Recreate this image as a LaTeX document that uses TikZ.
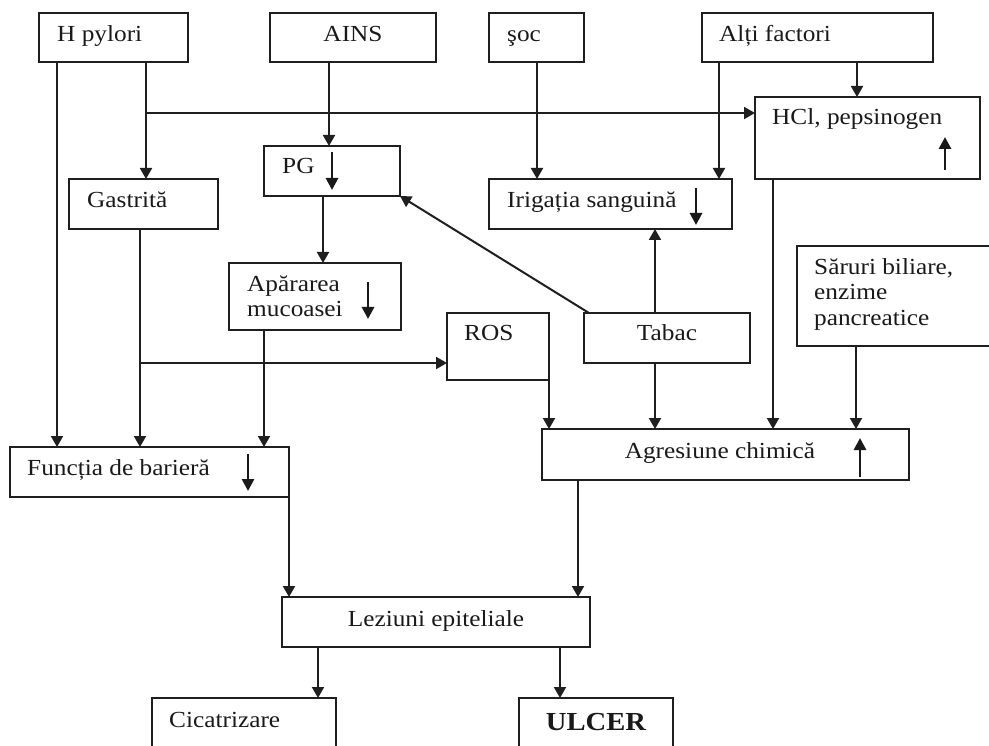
\documentclass[tikz,border=0pt]{standalone}
\usepackage{fontspec}
\setmainfont[FakeStretch=1.1]{Liberation Serif}
\usetikzlibrary{arrows.meta}

\begin{document}
\begin{tikzpicture}[x=1pt,y=-1pt,
  box/.style={draw=black!88, line width=1.8pt, rectangle, inner sep=0pt, outer sep=0pt, anchor=north west},
  txt/.style={inner sep=0pt, anchor=base west, text=black!90, font=\fontsize{23}{25}\selectfont},
  ctxt/.style={txt, anchor=base},
  conn/.style={draw=black!88, line width=2pt, -{Triangle[length=11pt,width=12pt]}},
  trend/.style={draw=black!90, line width=2.8pt, -{Triangle[length=12pt,width=12pt]}},
]
\useasboundingbox (0,0) rectangle (989,746);
\clip (0,0) rectangle (989,746);

% ---- boxes ----
\node[box, minimum width=149pt, minimum height=49pt] (hp)    at (39,13)  {};
\node[box, minimum width=166pt, minimum height=49pt] (ains)  at (270,13) {};
\node[box, minimum width=95pt,  minimum height=49pt] (soc)   at (489,13) {};
\node[box, minimum width=231pt, minimum height=49pt] (alti)  at (702,13) {};
\node[box, minimum width=225pt, minimum height=82pt] (hcl)   at (755,97) {};
\node[box, minimum width=149pt, minimum height=50pt] (gas)   at (69,179) {};
\node[box, minimum width=136pt, minimum height=50pt] (pg)    at (264,146) {};
\node[box, minimum width=243pt, minimum height=50pt] (irig)  at (489,179) {};
\node[box, minimum width=172pt, minimum height=67pt] (apa)   at (229,263) {};
\node[box, minimum width=102pt, minimum height=67pt] (ros)   at (447,313) {};
\node[box, minimum width=166pt, minimum height=50pt] (tabac) at (584,313) {};
\node[box, minimum width=200pt, minimum height=100pt] (sar)  at (797,246) {};
\node[box, minimum width=367pt, minimum height=51pt] (agr)   at (542,429) {};
\node[box, minimum width=279pt, minimum height=50pt] (func)  at (10,447) {};
\node[box, minimum width=308pt, minimum height=50pt] (lez)   at (282,597) {};
\node[box, minimum width=184pt, minimum height=70pt] (cic)   at (152,698) {};
\node[box, minimum width=154pt, minimum height=70pt] (ulcer) at (519,698) {};

% ---- texts ----
\node[txt]  (hp-t)    at (57,42)   {H pylori};
\node[ctxt] (ains-t)  at (353,42)  {AINS};
\node[txt]  (soc-t)   at (507,42)  {şoc};
\node[txt]  (alti-t)  at (719,42)  {Alți factori};
\node[txt]  (hcl-t)   at (772,125) {HCl, pepsinogen};
\node[txt]  (gas-t)   at (87,208)  {Gastrită};
\node[txt]  (pg-t)    at (282,174) {PG};
\node[txt]  (irig-t)  at (507,208) {Irigația sanguină};
\node[txt]  (apa-t1)  at (247,292) {Apărarea};
\node[txt]  (apa-t2)  at (247,317) {mucoasei};
\node[txt]  (ros-t)   at (464,341) {ROS};
\node[ctxt] (tabac-t) at (667,341) {Tabac};
\node[txt]  (sar-t1)  at (814,275) {Săruri biliare,};
\node[txt]  (sar-t2)  at (814,300) {enzime};
\node[txt]  (sar-t3)  at (814,326) {pancreatice};
\node[ctxt] (agr-t)   at (720,458) {Agresiune chimică};
\node[txt]  (func-t)  at (27,475)  {Funcția de barieră};
\node[ctxt] (lez-t)   at (436,626) {Leziuni epiteliale};
\node[txt]  (cic-t)   at (169,727) {Cicatrizare};
\node[ctxt, font=\fontsize{26}{28}\selectfont\bfseries] (ulcer-t) at (596,730) {ULCER};

% ---- trend arrows inside boxes ----
\draw[trend] (332,152) -- (332,190);
\draw[trend] (696,188) -- (696,225);
\draw[trend] (368,282) -- (368,319);
\draw[trend] (248,454) -- (248,491);
\draw[trend] (945,170) -- (945,137);
\draw[trend] (860,477) -- (860,438);

% ---- guide lines for vertical connectors ----
\coordinate (xa) at (57,0);
\coordinate (xb) at (146,0);
\coordinate (xc) at (329,0);
\coordinate (xd) at (537,0);
\coordinate (xe) at (719,0);
\coordinate (xf) at (857,0);
\coordinate (xg) at (323,0);
\coordinate (xh) at (655,0);
\coordinate (xi) at (140,0);
\coordinate (xj) at (264,0);
\coordinate (xl) at (773,0);
\coordinate (xm) at (856,0);
\coordinate (xo) at (578,0);
\coordinate (xp) at (318,0);
\coordinate (xq) at (560,0);
\coordinate (yb) at (0,113);
\coordinate (yr) at (0,363);

% ---- connectors ----
\draw[conn] (hp.south -| xa) -- (func.north -| xa);
\draw[conn] (hp.south -| xb) -- (gas.north -| xb);
\draw[conn] (xb |- yb) -- (hcl.west |- yb);
\draw[conn] (ains.south -| xc) -- (pg.north -| xc);
\draw[conn] (soc.south -| xd) -- (irig.north -| xd);
\draw[conn] (alti.south -| xe) -- (irig.north -| xe);
\draw[conn] (alti.south -| xf) -- (hcl.north -| xf);
\draw[conn] (pg.south -| xg) -- (apa.north -| xg);
\draw[conn] ([xshift=5pt]tabac.north west) -- (pg.south east);
\draw[conn] (tabac.north -| xh) -- (irig.south -| xh);
\draw[conn] (tabac.south -| xh) -- (agr.north -| xh);
\draw[conn] (gas.south -| xi) -- (func.north -| xi);
\draw[conn] (xi |- yr) -- (ros.west |- yr);
\draw[conn] (apa.south -| xj) -- (func.north -| xj);
\draw[conn] (ros.south east) -- (agr.north -| ros.south east);
\draw[conn] (hcl.south -| xl) -- (agr.north -| xl);
\draw[conn] (sar.south -| xm) -- (agr.north -| xm);
\draw[conn] (func.south east) -- (lez.north -| func.south east);
\draw[conn] (agr.south -| xo) -- (lez.north -| xo);
\draw[conn] (lez.south -| xp) -- (cic.north -| xp);
\draw[conn] (lez.south -| xq) -- (ulcer.north -| xq);
\end{tikzpicture}
\end{document}
